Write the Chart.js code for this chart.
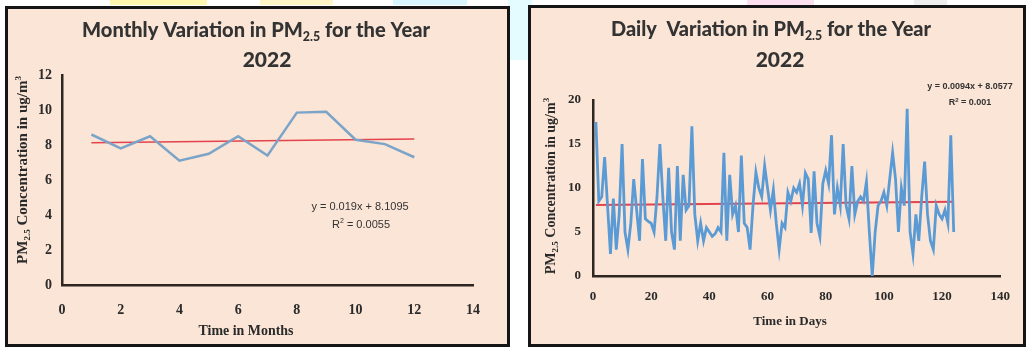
<!DOCTYPE html>
<html>
<head>
<meta charset="utf-8">
<script src="https://cdn.jsdelivr.net/npm/chart.js@4.4.1/dist/chart.umd.min.js"></script>
<style>
body { margin: 0; width: 1028px; height: 347px; background: #fff; position: relative; overflow: hidden; }
.panel { position: absolute; border: 3px solid #151515; background: #fbe5d6; box-sizing: border-box; }
#p1 { left: 5px; top: 6px; width: 505px; height: 341px; }
#p2 { left: 528px; top: 5px; width: 498px; height: 342px; }
.panel canvas { position: absolute; left: 0; top: 0; }
.hl { position: absolute; top: 0; height: 5px; }
</style>
</head>
<body>
<div class="hl" style="left:110px;width:97px;background:#fff6b0"></div>
<div class="hl" style="left:260px;width:73px;background:#fff6c8"></div>
<div class="hl" style="left:393px;width:74px;background:#d8f6ff"></div>
<div class="hl" style="left:508px;width:24px;height:60px;background:#e4fbff"></div>
<div class="hl" style="left:747px;width:67px;background:#fde0f0"></div>
<div class="hl" style="left:914px;width:33px;background:#eeeeee"></div>
<div class="panel" id="p1"><canvas id="monthly" width="499" height="335"></canvas></div>
<div class="panel" id="p2"><canvas id="daily" width="492" height="336"></canvas></div>
<script>
// monthly averages
const months = [1, 2, 3, 4, 5, 6, 7, 8, 9, 10, 11, 12];
const monthlyPM = [8.6, 7.8, 8.5, 7.1, 7.5, 8.5, 7.4, 9.85, 9.9, 8.3, 8.05, 7.3];
const monthlyTrendX = [1, 12];
const monthlyTrendY = [8.13, 8.34];

// daily values, day 1..124
const dailyPM = [
  17.5, 8.5, 9, 13.5, 8, 2.5, 8.8, 3, 7, 15,
  5, 3, 6, 11, 7.5, 4, 13.3, 6.5, 6.2, 6,
  5, 9, 15, 9, 4, 12.3, 5, 3, 12.5, 4,
  11.5, 7.5, 8, 17, 7, 4, 6, 4, 5.5, 5,
  4.5, 4.8, 5.5, 5, 14, 4, 11.5, 7, 8, 5,
  13.7, 6, 5.5, 3, 8, 11.8, 10, 9, 12.5, 10,
  7.5, 9.8, 6, 3, 6, 5.5, 9.5, 8.5, 10, 9.5,
  10.5, 8, 11.7, 11, 4.9, 11.9, 6, 4.5, 10.5, 12,
  10.5, 16, 7, 10, 8, 15, 8, 6.5, 12.5, 7,
  8.5, 9, 8.5, 10.7, 5, 0, 5, 8, 8.5, 9.5,
  8, 11, 14, 11, 5, 10, 8, 19, 5, 2.5,
  7, 4, 9, 13, 7, 4, 3, 8, 7, 6.5,
  7.5, 6, 16, 5
];
const days = dailyPM.map((v, i) => i + 1);
const dailyTrendX = [1, 124];
const dailyTrendY = [8.07, 8.45];

const monthTicks = { min: 0, max: 14, step: 2 };
const monthYTicks = { min: 0, max: 12, step: 2 };
const dayTicks = { min: 0, max: 140, step: 20 };
const dayYTicks = { min: 0, max: 20, step: 5 };

const pts = (xs, ys) => xs.map((x, i) => ({ x: x, y: ys[i] }));

function drawRich(ctx, item) {
  ctx.save();
  const fontFor = s => item.weight + ' ' + (s ? Math.round(item.size * 0.62) : item.size) + 'px ' + item.family;
  let w = 0;
  item.parts.forEach(p => { ctx.font = fontFor(p[1]); w += ctx.measureText(p[0]).width; });
  const k = item.maxW && w > item.maxW ? item.maxW / w : 1;
  ctx.translate(item.x, item.y);
  if (item.rotate) ctx.rotate(item.rotate);
  ctx.scale(k, 1);
  ctx.fillStyle = item.color;
  ctx.textBaseline = 'middle';
  ctx.textAlign = 'left';
  let cx = -w / 2;
  item.parts.forEach(p => {
    ctx.font = fontFor(p[1]);
    const dy = p[1] === 'sub' ? item.size * 0.32 : p[1] === 'sup' ? -item.size * 0.32 : 0;
    ctx.fillText(p[0], cx, dy);
    cx += ctx.measureText(p[0]).width;
  });
  ctx.restore();
}

const textLayer = {
  id: 'textLayer',
  afterDraw(chart, args, opts) {
    opts.items.forEach(it => drawRich(chart.ctx, it));
  }
};

const titleFont = { family: 'Lato', weight: '900', size: 21, color: '#333' };
const serif = { family: '"Liberation Serif"', weight: 'bold', color: '#2a2a2a' };
const eqFont = { family: '"Liberation Sans"', weight: 'normal', color: '#333' };

function axes(xt, yt, tickSize, xPad, yPad, axisW, axisH) {
  const base = {
    type: 'linear',
    grid: { display: false, drawTicks: false },
    border: { display: true, color: '#2e2620', width: 2.5 },
  };
  return {
    x: Object.assign({}, base, {
      min: xt.min, max: xt.max,
      ticks: { stepSize: xt.step, padding: xPad, color: serif.color, font: { family: 'Liberation Serif', weight: 'bold', size: tickSize } },
      afterFit: s => { s.height = axisH; }
    }),
    y: Object.assign({}, base, {
      min: yt.min, max: yt.max,
      ticks: { stepSize: yt.step, padding: yPad, color: serif.color, font: { family: 'Liberation Serif', weight: 'bold', size: tickSize } },
      afterFit: s => { s.width = axisW; }
    })
  };
}

new Chart(document.getElementById('monthly'), {
  type: 'line',
  data: {
    datasets: [
      { data: pts(months, monthlyPM), borderColor: '#7ca4c8', borderWidth: 2.5, pointRadius: 0, tension: 0 },
      { data: pts(monthlyTrendX, monthlyTrendY), borderColor: '#e2434c', borderWidth: 1.5, pointRadius: 0 }
    ]
  },
  options: {
    responsive: false,
    animation: false,
    layout: { padding: { left: 14, right: 34, top: 66, bottom: 19 } },
    scales: axes(monthTicks, monthYTicks, 14, 17, 10, 40, 40),
    plugins: {
      legend: { display: false },
      tooltip: { enabled: false },
      textLayer: {
        items: [
          Object.assign({ parts: [['Monthly Variation in PM'], ['2.5', 'sub'], [' for the Year']], x: 248, y: 21, maxW: 348 }, titleFont),
          Object.assign({ parts: [['2022']], x: 259, y: 51 }, titleFont),
          Object.assign({ parts: [['PM'], ['2.5', 'sub'], [' Concentration in ug/m'], ['3', 'sup']], x: 15, y: 161, rotate: -Math.PI / 2, size: 15, maxW: 195 }, serif),
          Object.assign({ parts: [['Time in Months']], x: 238, y: 322, size: 14, maxW: 95 }, serif),
          Object.assign({ parts: [['y = 0.019x + 8.1095']], x: 352, y: 198, size: 11 }, eqFont),
          Object.assign({ parts: [['R'], ['2', 'sup'], [' = 0.0055']], x: 353, y: 216, size: 11 }, eqFont)
        ]
      }
    }
  },
  plugins: [textLayer]
});

new Chart(document.getElementById('daily'), {
  type: 'line',
  data: {
    datasets: [
      { data: pts(days, dailyPM), borderColor: '#5b9bd5', borderWidth: 2.8, pointRadius: 0, tension: 0 },
      { data: pts(dailyTrendX, dailyTrendY), borderColor: '#e2434c', borderWidth: 2, pointRadius: 0 }
    ]
  },
  options: {
    responsive: false,
    animation: false,
    layout: { padding: { left: 22, right: 16, top: 92, bottom: 28 } },
    scales: axes(dayTicks, dayYTicks, 13, 13, 12, 40, 40),
    plugins: {
      legend: { display: false },
      tooltip: { enabled: false },
      textLayer: {
        items: [
          Object.assign({ parts: [['Daily  Variation in PM'], ['2.5', 'sub'], [' for the Year']], x: 240, y: 21, maxW: 320 }, titleFont),
          Object.assign({ parts: [['2022']], x: 249, y: 52 }, titleFont),
          Object.assign({ parts: [['PM'], ['2.5', 'sub'], [' Concentration in ug/m'], ['3', 'sup']], x: 20, y: 178, rotate: -Math.PI / 2, size: 14, maxW: 193 }, serif),
          Object.assign({ parts: [['Time in Days']], x: 259, y: 314, size: 13, maxW: 75 }, serif),
          Object.assign({ parts: [['y = 0.0094x + 8.0577']], x: 439, y: 79, size: 9, maxW: 95 }, eqFont, { weight: 'bold' }),
          Object.assign({ parts: [['R'], ['2', 'sup'], [' = 0.001']], x: 439, y: 95, size: 9 }, eqFont, { weight: 'bold' })
        ]
      }
    }
  },
  plugins: [textLayer]
});
</script>
</body>
</html>
